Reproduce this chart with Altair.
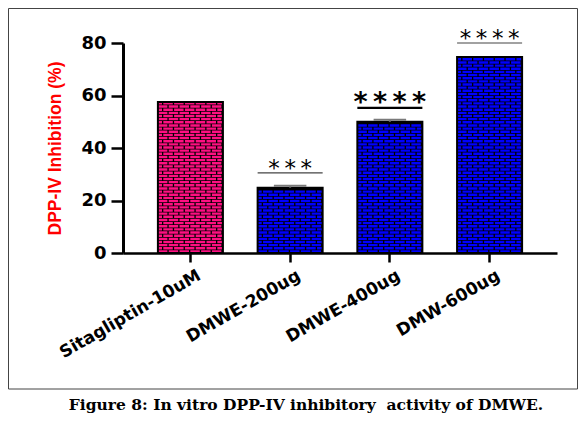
import altair as alt
import pandas as pd

cats = ["Sitagliptin-10uM", "DMWE-200ug", "DMWE-400ug", "DMW-600ug"]
values = [57.5, 24.9, 50.0, 74.7]
errors = [0.0, 0.7, 0.8, 0.0]
sig_levels = [None, 30.5, 55.3, 80.0]
sig_marks = ["", "*\u2009*\u2009*", "*\u2009*\u2009*\u2009*", "*\u2009*\u2009*\u2009*"]
groups = ["Sitagliptin", "DMWE", "DMWE", "DMWE"]
y_ticks = [0, 20, 40, 60, 80]
caption = "Figure 8: In vitro DPP-IV inhibitory \u00a0activity of DMWE."
y_title = "DPP-IV Inhibition (%)"

PINK = "#FF0F82"
BLUE = "#0000FF"

df = pd.DataFrame({
    "cat": cats, "value": values, "err": errors,
    "sig": sig_levels, "stars": sig_marks, "group": groups,
})

xscale = alt.Scale(paddingInner=0.348, paddingOuter=0.35)
yscale = alt.Scale(domain=[0, 80], nice=False, zero=True)


def xplain(bp=None):
    if bp is None:
        return alt.X("cat:N", sort=cats, scale=xscale)
    return alt.X("cat:N", sort=cats, scale=xscale, bandPosition=bp)


def yplain(field):
    return alt.Y(field, scale=yscale)


color = alt.Color("group:N", scale=alt.Scale(domain=["Sitagliptin", "DMWE"], range=[PINK, BLUE]), legend=None)

base = alt.Chart(df)

bars_bg = base.mark_bar(color="#000000").encode(
    x=alt.X("cat:N", sort=cats, scale=xscale, axis=alt.Axis(title=None)),
    y=alt.Y("value:Q", scale=yscale, axis=alt.Axis(values=y_ticks, title=y_title)),
)

bricks_a = base.transform_calculate(
    row="sequence(0.6, datum.value - 0.5, 2.4)"
).transform_flatten(["row"]).mark_rule(strokeWidth=2.4, strokeDash=[9.5, 1.3], strokeDashOffset=0).encode(
    x=xplain(0), x2=alt.X2("cat", bandPosition=1),
    y=yplain("row:Q"), color=color,
)
bricks_b = base.transform_calculate(
    row="sequence(1.8, datum.value - 0.5, 2.4)"
).transform_flatten(["row"]).mark_rule(strokeWidth=2.4, strokeDash=[9.5, 1.3], strokeDashOffset=5.4).encode(
    x=xplain(0), x2=alt.X2("cat", bandPosition=1),
    y=yplain("row:Q"), color=color,
)

bars_outline = base.mark_bar(fillOpacity=0, stroke="#000000", strokeWidth=2).encode(
    x=xplain(), y=yplain("value:Q"),
)

err_base = base.transform_filter("datum.err > 0").transform_calculate(hi="datum.value + datum.err")
err_stem = err_base.mark_rule(color="#7a7a7a", strokeWidth=2).encode(
    x=xplain(), y=yplain("value:Q"), y2="hi:Q",
)
err_cap = err_base.mark_rule(color="#7a7a7a", strokeWidth=2).encode(
    x=xplain(0.25), x2=alt.X2("cat", bandPosition=0.75),
    y=yplain("hi:Q"),
)

sig_base = base.transform_filter("isValid(datum.sig)")
is400 = alt.datum.cat == "DMWE-400ug"
sig_line = sig_base.mark_rule().encode(
    x=xplain(0), x2=alt.X2("cat", bandPosition=1),
    y=yplain("sig:Q"),
    color=alt.condition(is400, alt.value("#000000"), alt.value("#444444")),
    strokeWidth=alt.condition(is400, alt.value(2.2), alt.value(1.2)),
)
stars_n = sig_base.transform_filter(~is400).mark_text(
    font="DejaVu Sans", fontSize=23, baseline="alphabetic", align="center", dy=3, color="#000000"
).encode(x=xplain(), y=yplain("sig:Q"), text="stars:N")
stars_b = sig_base.transform_filter(is400).mark_text(
    font="DejaVu Sans", fontSize=27, fontWeight="bold", baseline="alphabetic", align="center", dy=3, color="#000000"
).encode(x=xplain(), y=yplain("sig:Q"), text="stars:N")

one = pd.DataFrame({"k": [0]})
frame = alt.Chart(one).mark_rect(fillOpacity=0, stroke="#444444", strokeWidth=1).encode(
    x=alt.value(-114.5), x2=alt.value(454.5), y=alt.value(-34.5), y2=alt.value(346),
)
cap = alt.Chart(one).mark_text(
    text=caption, font="DejaVu Serif", fontWeight="bold", fontSize=15.5,
    align="center", baseline="alphabetic", color="#000000"
).encode(x=alt.value(183), y=alt.value(367.4))

chart = alt.layer(
    bars_bg, bricks_a, bricks_b, bars_outline, err_stem, err_cap,
    sig_line, stars_n, stars_b, frame, cap
).properties(
    width=434, height=210,
    padding={"left": 115, "top": 35, "right": 21, "bottom": 161},
    autosize=alt.AutoSizeParams(type="none"),
    background="#ffffff",
).configure_view(stroke=None).configure_axisX(
    labelAngle=-30, labelAlign="right", labelBaseline="top",
    labelFont="DejaVu Sans", labelFontWeight="bold", labelFontSize=17,
    labelColor="#000000", labelPadding=5, labelOffset=5, labelLimit=0,
    domainColor="#000000", domainWidth=2.5, tickColor="#000000",
    tickWidth=2.5, tickSize=9, grid=False,
).configure_axisY(
    grid=False, labelFont="DejaVu Sans", labelFontWeight="bold", labelFontSize=18,
    labelColor="#000000", labelPadding=5,
    domainColor="#000000", domainWidth=3, tickColor="#000000",
    tickWidth=2.5, tickSize=12,
    titleFont="Liberation Sans", titleFontSize=17.5, titleFontWeight="bold",
    titleColor="#FF0000", titleX=-68, titleY=105, titleAngle=270,
    titleAlign="center", titleBaseline="middle",
)

chart.save("out.html", embed_options={"renderer": "svg", "actions": False})
